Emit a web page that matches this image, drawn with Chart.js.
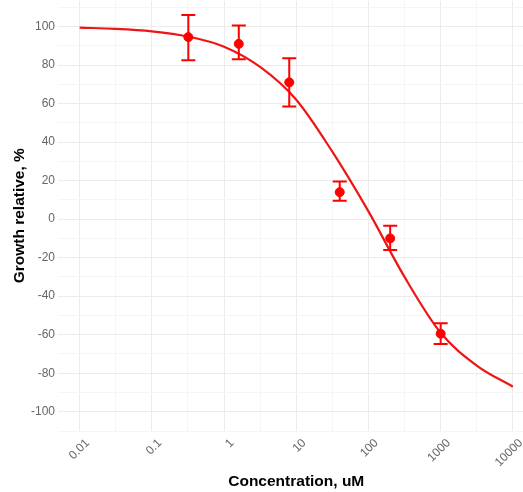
<!DOCTYPE html>
<html>
<head>
<meta charset="utf-8">
<script src="https://cdn.jsdelivr.net/npm/chart.js@4/dist/chart.umd.min.js"></script>
<style>
  html, body { margin: 0; padding: 0; background: #fff; overflow: hidden; }
  #wrap { width: 540px; height: 497px; margin-top: -5px; position: relative; }
</style>
</head>
<body>
<div id="wrap"><canvas id="myChart"></canvas></div>
<script>
// measured points (5-fold dilution series)
const conc = [0.32, 1.6, 8, 40, 200, 1000];
const growth = [94.5, 91, 71, 14, -10, -59.5];
const errHigh = [106, 100.5, 83.5, 19.5, -3.5, -54];
const errLow = [82.5, 83, 58.5, 9.5, -16, -64.8];

// fitted curve at half-decade steps
const curveX = [0.01, 0.0316, 0.1, 0.316, 1, 3.16, 10, 31.6, 100, 316, 1000, 3160, 10000];
const curveY = [99.4, 98.8, 97.5, 94.8, 89.5, 79, 62, 35, 4, -30, -59, -76, -87];

// axis ticks
const xMajor = [0.01, 0.1, 1, 10, 100, 1000, 10000];
const xMinor = [0.0316, 0.316, 3.16, 31.6, 316, 3160];
const yMajor = [-100, -80, -60, -40, -20, 0, 20, 40, 60, 80, 100];
const yMinor = [-110, -90, -70, -50, -30, -10, 10, 30, 50, 70, 90, 110];

const RED = '#ff0000';
const FONT = "'Liberation Sans', Arial, sans-serif";

const errorBars = {
  id: 'errorBars',
  afterDatasetsDraw(chart) {
    const c = chart.ctx;
    const xs = chart.scales.x, ys = chart.scales.y;
    c.save();
    c.strokeStyle = RED;
    c.lineWidth = 2;
    conc.forEach((v, i) => {
      const px = xs.getPixelForValue(v);
      const top = ys.getPixelForValue(errHigh[i]);
      const bot = ys.getPixelForValue(errLow[i]);
      c.beginPath();
      c.moveTo(px, top); c.lineTo(px, bot);
      c.moveTo(px - 7, top); c.lineTo(px + 7, top);
      c.moveTo(px - 7, bot); c.lineTo(px + 7, bot);
      c.stroke();
    });
    c.restore();
  }
};

var ctx = document.getElementById('myChart').getContext('2d');
var chart = new Chart(ctx, {
  type: 'line',
  data: {
    datasets: [
      {
        label: 'Growth',
        data: conc.map((x, i) => ({ x, y: growth[i] })),
        showLine: false,
        pointRadius: 4.5,
        pointBackgroundColor: RED,
        pointBorderColor: RED,
        order: 0
      },
      {
        label: 'Fit',
        data: curveX.map((x, i) => ({ x, y: curveY[i] })),
        borderColor: '#ee1515',
        borderWidth: 2.2,
        pointRadius: 0,
        cubicInterpolationMode: 'monotone',
        fill: false,
        order: 1
      }
    ]
  },
  options: {
    responsive: true,
    maintainAspectRatio: false,
    animation: false,
    layout: { padding: 0 },
    plugins: { legend: { display: false }, tooltip: { enabled: false } },
    scales: {
      x: {
        type: 'logarithmic',
        min: 0.005012,
        max: 19953,
        afterBuildTicks: s => {
          s.ticks = xMajor.concat(xMinor).sort((a, b) => a - b).map(v => ({ value: v }));
        },
        afterFit: s => { s.height = 61; s.paddingLeft = 0; s.paddingRight = 0; },
        grid: {
          drawTicks: false,
          color: c => xMajor.includes(c.tick.value) ? '#ebebeb' : '#f5f5f5'
        },
        border: { display: false },
        ticks: {
          autoSkip: false,
          minRotation: 45,
          maxRotation: 45,
          padding: 5,
          labelOffset: 8,
          color: '#666',
          font: { family: FONT, size: 12 },
          callback: v => xMajor.includes(v) ? String(v) : ''
        },
        title: {
          display: true,
          text: 'Concentration, uM',
          color: '#000',
          font: { family: FONT, size: 15.5, weight: 'bold' },
          padding: { top: 0, bottom: 1 }
        }
      },
      y: {
        min: -110,
        max: 113.5,
        afterBuildTicks: s => {
          s.ticks = yMajor.concat(yMinor).sort((a, b) => a - b).map(v => ({ value: v }));
        },
        afterFit: s => { s.width = 58; s.paddingTop = 0; s.paddingBottom = 0; },
        grid: {
          drawTicks: false,
          color: c => yMajor.includes(c.tick.value) ? '#ebebeb' : '#f5f5f5'
        },
        border: { display: false },
        ticks: {
          autoSkip: false,
          padding: 3,
          color: '#666',
          font: { family: FONT, size: 12 },
          callback: v => yMajor.includes(v) ? String(v) : ''
        },
        title: {
          display: true,
          text: 'Growth relative, %',
          color: '#000',
          font: { family: FONT, size: 15.5, weight: 'bold' },
          padding: { top: 10, bottom: 0 }
        }
      }
    }
  },
  plugins: [errorBars]
});
</script>
</body>
</html>
